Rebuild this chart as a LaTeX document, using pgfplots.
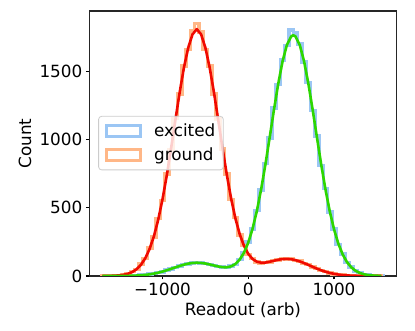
\documentclass[border=0pt]{standalone}
\usepackage{fontspec}
\setmainfont{DejaVu Sans}
\usepackage{pgfplots}
\usepackage{pgfplotstable}
\pgfplotsset{compat=1.18}

\newcommand{\fs}{\fontsize{16.8}{20}\selectfont}

\definecolor{histblue}{RGB}{155,198,244}
\definecolor{historange}{RGB}{255,183,135}
\definecolor{fitred}{RGB}{240,10,0}
\definecolor{fitgreen}{RGB}{45,215,0}
\definecolor{legframe}{RGB}{204,204,204}

% histogram outlines: left bin edge, counts
\pgfplotstableread{
left ground excited
-1725 0 0
-1675 1 0
-1625 2 0
-1575 3 0
-1525 5 1
-1475 10 1
-1425 16 1
-1375 33 2
-1325 49 4
-1275 88 6
-1225 127 8
-1175 205 13
-1125 285 17
-1075 420 25
-1025 552 31
-975 748 43
-925 925 51
-875 1155 64
-825 1335 72
-775 1540 85
-725 1660 89
-675 1800 97
-625 1850 99
-575 1790 94
-525 1660 92
-475 1540 83
-425 1335 78
-375 1150 68
-325 930 66
-275 748 63
-225 560 72
-175 430 86
-125 300 122
-75 225 168
-25 158 248
25 128 343
75 101 480
125 96 630
175 100 825
225 102 1010
275 115 1230
325 118 1405
375 127 1585
425 123 1690
475 126 1805
525 114 1780
575 110 1700
625 92 1570
675 84 1420
725 65 1212
775 56 1025
825 40 810
875 32 640
925 21 468
975 16 345
1025 10 232
1075 7 162
1125 4 100
1175 3 65
1225 2 37
1275 1 23
1325 1 12
1375 0 7
1425 0 3
1475 0 2
1525 0 1
1575 0 0
}\hists

% fitted curves
\pgfplotstableread{
x ground excited
-1700 0.3 0.0
-1650 0.6 0.1
-1600 1.2 0.1
-1550 2.5 0.2
-1500 4.9 0.4
-1450 9.3 0.7
-1400 17.0 1.2
-1350 29.9 2.1
-1300 50.7 3.4
-1250 82.9 5.4
-1200 130.7 8.2
-1150 198.7 12.2
-1100 291.3 17.5
-1050 411.8 24.2
-1000 561.2 32.4
-950 737.5 41.9
-900 934.5 52.3
-850 1141.8 63.2
-800 1345.1 73.7
-750 1527.9 83.1
-700 1673.6 90.6
-650 1772.0 95.4
-600 1810.0 97.2
-550 1772.0 95.8
-500 1673.9 91.4
-450 1528.4 84.8
-400 1346.0 77.2
-350 1143.4 69.9
-300 937.1 64.7
-250 741.8 64.1
-200 568.1 70.8
-150 422.4 88.1
-100 307.0 120.1
-50 221.2 171.0
0 161.9 245.2
50 124.6 346.6
100 104.7 477.0
150 97.3 635.8
200 98.4 819.0
250 104.3 1018.1
300 112.0 1221.1
350 119.2 1412.1
400 124.1 1575.1
450 125.6 1694.2
500 123.2 1757.0
525 120.3 1765.0
550 116.7 1757.0
600 107.1 1694.2
650 95.0 1575.1
700 81.4 1412.1
750 67.4 1220.7
800 54.0 1017.4
850 41.7 817.8
900 31.2 633.7
950 22.5 473.6
1000 15.7 341.2
1050 10.6 237.0
1100 6.9 158.8
1150 4.3 102.6
1200 2.6 63.9
1250 1.6 38.4
1300 0.9 22.2
1350 0.5 12.4
1400 0.3 6.7
1450 0.1 3.5
1500 0.1 1.7
1550 0.0 0.8
}\fits

\begin{document}
\begin{tikzpicture}
\begin{axis}[
    scale only axis,
    width=307.4pt, height=265pt,
    xmin=-1853, xmax=1730,
    ymin=0, ymax=1943,
    xtick={-1000,0,1000},
    xticklabels={−1000,0,1000},
    ytick={0,500,1000,1500},
    yticklabels={0,500,1000,1500},
    tick pos=left,
    tick align=outside,
    major tick length=3.5pt,
    tick style={line width=1.2pt, black},
    axis line style={line width=1.2pt, black!85},
    tick label style={font=\fs},
    label style={font=\fs},
    xlabel={Readout (arb)},
    ylabel={Count},
    xlabel style={at={(axis description cs:0.5,-0.131)}, anchor=center},
    ylabel style={at={(axis description cs:-0.209,0.5)}, anchor=center},
    legend style={at={(0.029,0.604)}, anchor=north west,
        draw=legframe, line width=0.8pt, rounded corners=3pt,
        fill=white, fill opacity=0.8, text opacity=1, draw opacity=1,
        font=\fs, row sep=6pt, inner xsep=6pt, inner ysep=5.5pt,
        nodes={inner sep=2pt}},
    legend cell align=left,
    legend image code/.code={
        \draw[line width=3.5pt, opacity=1, sharp corners] (0pt,-5.5pt) rectangle (34pt,5.5pt);
    },
]
\addplot[const plot, histblue, line width=3.5pt]
    table[x=left, y=excited] {\hists};
\addlegendentry{\hspace{10pt}excited}
\addplot[const plot, historange, line width=3.5pt]
    table[x=left, y=ground] {\hists};
\addlegendentry{\hspace{10pt}ground}
\addplot[fitred, line width=2.6pt, line join=round, forget plot]
    table[x=x, y=ground] {\fits};
\addplot[fitgreen, line width=2.6pt, line join=round, forget plot]
    table[x=x, y=excited] {\fits};
\end{axis}
\pgfresetboundingbox
\useasboundingbox (-89.3pt,-55pt) rectangle (325.7pt,276pt);
\end{tikzpicture}
\end{document}
